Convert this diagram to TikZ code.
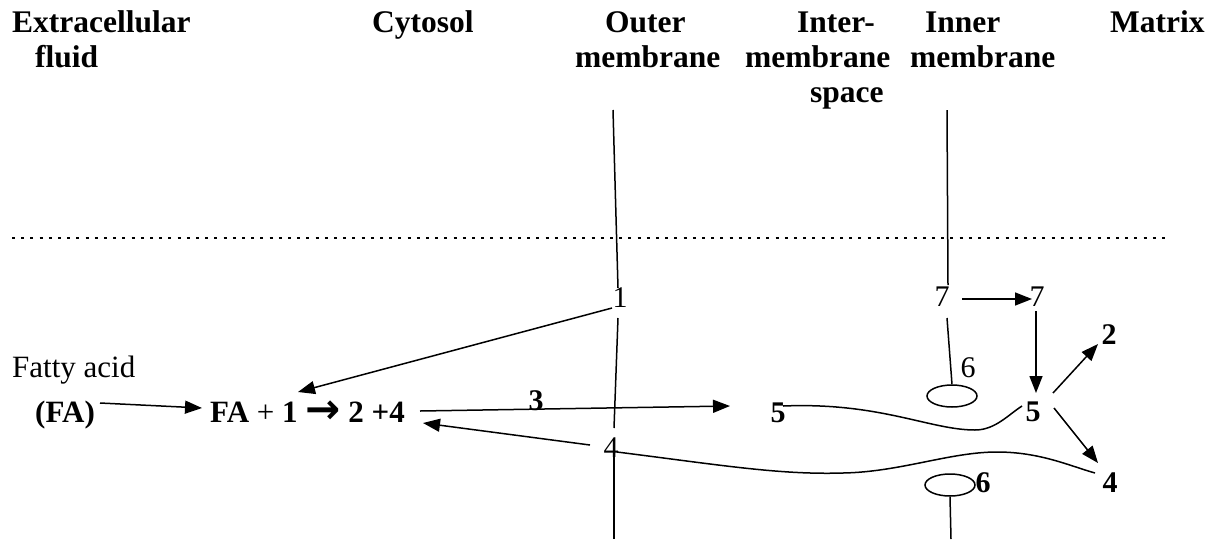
\documentclass[tikz,border=0pt]{standalone}
\usepackage{fontspec}
\setmainfont{Liberation Serif}
\newfontfamily\arrowfont{DejaVu Sans}
\usetikzlibrary{arrows.meta,shapes.geometric}
\begin{document}
\begin{tikzpicture}[x=1pt,y=-1pt,
  hdr/.style={font=\fontsize{31.5}{35}\selectfont\bfseries, anchor=base west, inner sep=0pt},
  txt/.style={font=\fontsize{31}{35}\selectfont, anchor=base west, inner sep=0pt},
  num/.style={font=\fontsize{30}{35}\selectfont, inner sep=0pt},
  bnum/.style={font=\fontsize{30}{35}\selectfont\bfseries, inner sep=0pt},
  ln/.style={line width=1.5pt},
  oval/.style={draw, line width=1.5pt, ellipse, minimum width=50pt, minimum height=22pt, inner sep=0pt},
  arr/.style={line width=1.5pt, -{Triangle[length=17pt,width=13pt]}},
  dotline/.style={line width=2.7pt, dash pattern=on 3pt off 6.2pt}]
\useasboundingbox (0,0) rectangle (1213,539);
% headers
\node[hdr] (h1) at (12,32) {Extracellular};
\node[hdr] (h2) at (35,67) {fluid};
\node[hdr] (h3) at (372,32) {Cytosol};
\node[hdr] (h4) at (605,32) {Outer};
\node[hdr] (h5) at (575,67) {membrane};
\node[hdr] (h6) at (797,32) {Inter-};
\node[hdr] (h7) at (745,67) {membrane};
\node[hdr] (h8) at (810,102) {space};
\node[hdr] (h9) at (925,32) {Inner};
\node[hdr] (h10) at (910,67) {membrane};
\node[hdr] (h11) at (1110,32) {Matrix};
% dotted separator
\coordinate (dl) at (12,238);
\coordinate (dr) at (1165,238);
\draw[dotline] (dl) -- (dr);
% texts
\node[txt] (fatty) at (12,377) {Fatty acid};
\node[txt] (fa) at (35,422) {\bfseries (FA)};
\node[txt] (eq) at (210,422) {\textbf{FA} + \textbf{1 {\arrowfont\bfseries\fontsize{42}{42}\selectfont\raisebox{-1pt}{→}} 2 +4}};
% numbers
\node[num] (n1) at (620,298) {1};
\node[num] (n4o) at (611,448) {4};
\node[bnum] (n5l) at (778,413) {5};
\node[bnum] (n5r) at (1033,412) {5};
\node[num] (n7l) at (942,297) {7};
\node[num] (n7r) at (1037,297) {7};
\node[num] (n6u) at (968,368) {6};
\node[bnum] (n6d) at (983,483) {6};
\node[bnum] (n2) at (1109,335) {2};
\node[bnum] (n4r) at (1110,483) {4};
\node[bnum] (n3) at (536,401) {3};
% membrane lines
\coordinate (om1) at (613,110);
\coordinate (om2) at (618,288);
\coordinate (om3) at (618,318);
\coordinate (om4) at (614,428);
\coordinate (om5) at (614,455);
\coordinate (om6) at (614,539);
\draw[ln] (om1) -- (om2);
\draw[ln] (om3) -- (om4);
\draw[ln] (om5) -- (om6);
\coordinate (im1) at (947,110);
\coordinate (im2) at (948,285);
\coordinate (im3) at (947,318);
\node[oval] (eu) at (952,396) {};
\node[oval] (ed) at (950,485) {};
\coordinate (im4) at (951,539);
\draw[ln] (im1) -- (im2);
\draw[ln] (im3) -- (eu.north);
\draw[ln] (ed.south) -- (im4);
% arrows
\coordinate (a1s) at (612,308);
\coordinate (a1e) at (298,392);
\draw[arr] (a1s) -- (a1e);
\coordinate (afs) at (100,403);
\coordinate (afe) at (202,408);
\draw[arr] (afs) -- (afe);
\coordinate (a3s) at (420,411);
\coordinate (a3e) at (730,406);
\draw[arr] (a3s) -- (a3e);
\coordinate (a4s) at (590,445);
\coordinate (a4e) at (423,423);
\draw[arr] (a4s) -- (a4e);
\coordinate (a7s) at (962,299);
\coordinate (a7e) at (1032,299);
\draw[arr] (a7s) -- (a7e);
\coordinate (a75s) at (1036,311);
\coordinate (a75e) at (1036,393);
\draw[arr] (a75s) -- (a75e);
\coordinate (a52s) at (1053,393);
\coordinate (a52e) at (1098,344);
\draw[arr] (a52s) -- (a52e);
\coordinate (a54s) at (1054,408);
\coordinate (a54e) at (1098,463);
\draw[arr] (a54s) -- (a54e);
% curves
\coordinate (cu1) at (783,406);
\coordinate (cu2) at (975,430);
\coordinate (cu3) at (1022,406);
\draw[ln] (cu1) .. controls (880,402) and (930,430) .. (cu2) .. controls (995,430) and (1008,415) .. (cu3);
\coordinate (cl1) at (617,452);
\coordinate (cl2) at (843,473);
\coordinate (cl3) at (997,452);
\coordinate (cl4) at (1095,473);
\draw[ln] (cl1) .. controls (720,465) and (780,475) .. (cl2) .. controls (900,472) and (950,452) .. (cl3) .. controls (1040,452) and (1070,466) .. (cl4);
\end{tikzpicture}
\end{document}
